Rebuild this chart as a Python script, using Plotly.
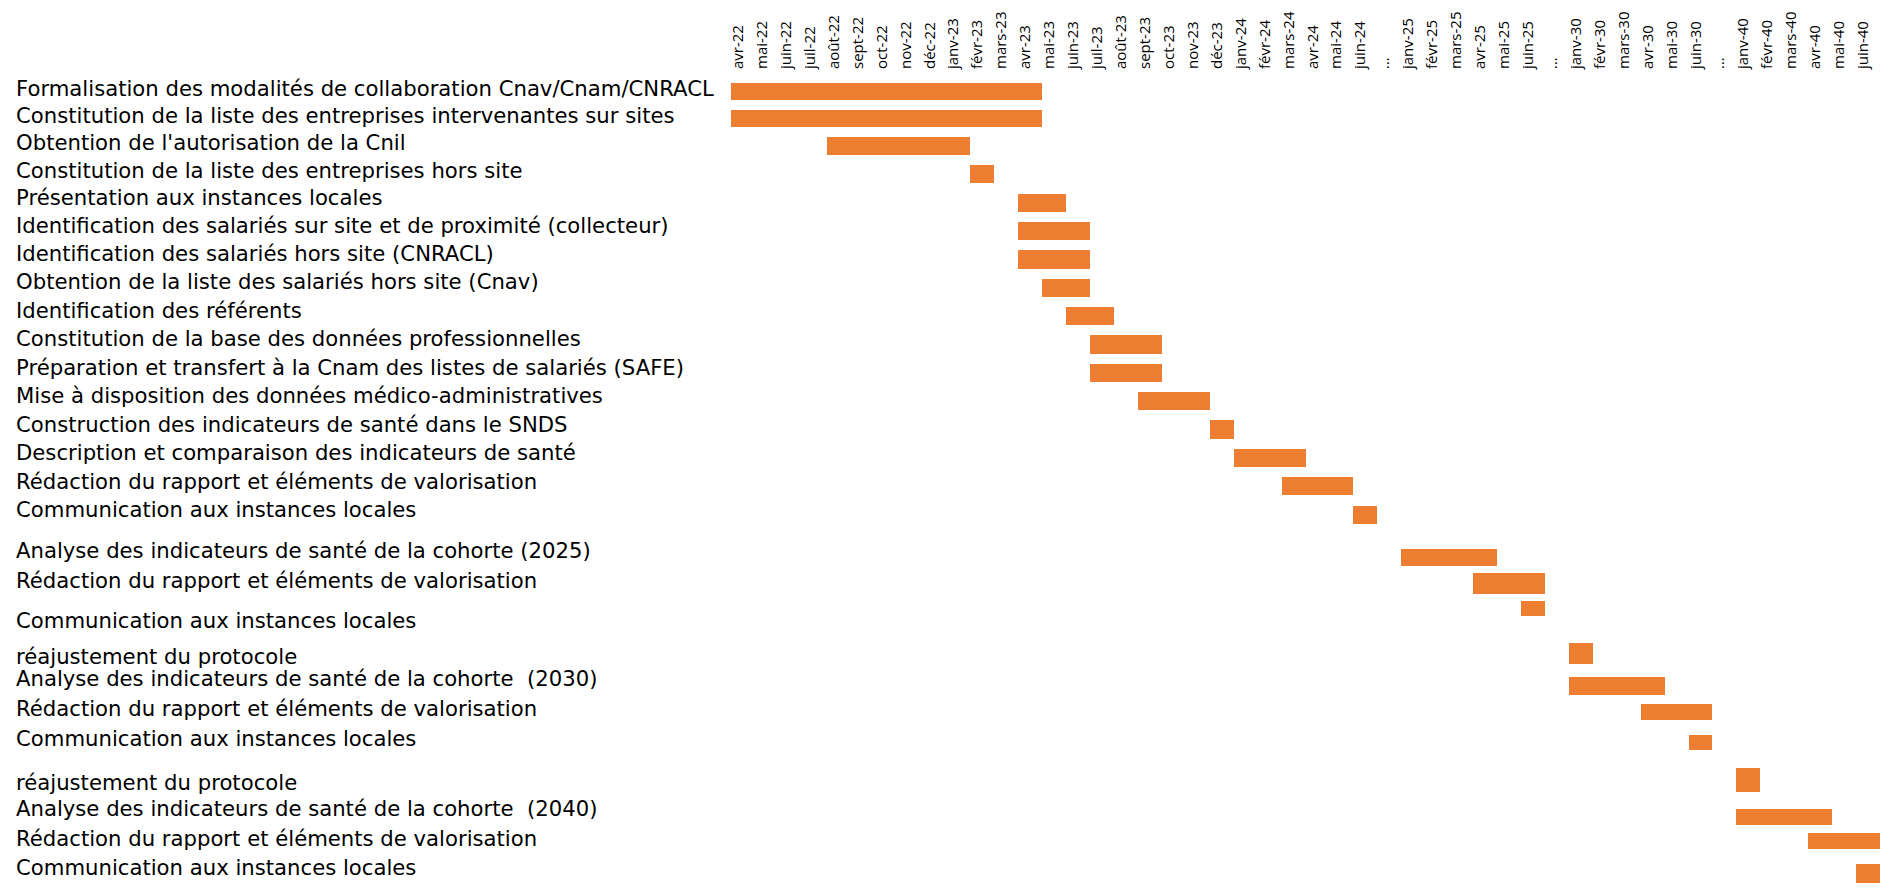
import plotly.graph_objects as go

# Month columns of the schedule ("…" marks skipped periods)
columns = [
    "avr-22", "mai-22", "juin-22", "juil-22", "août-22", "sept-22", "oct-22", "nov-22",
    "déc-22", "janv-23", "févr-23", "mars-23", "avr-23", "mai-23", "juin-23", "juil-23",
    "août-23", "sept-23", "oct-23", "nov-23", "déc-23", "janv-24", "févr-24", "mars-24",
    "avr-24", "mai-24", "juin-24", "…",
    "janv-25", "févr-25", "mars-25", "avr-25", "mai-25", "juin-25", "…",
    "janv-30", "févr-30", "mars-30", "avr-30", "mai-30", "juin-30", "…",
    "janv-40", "févr-40", "mars-40", "avr-40", "mai-40", "juin-40",
]

tasks = [
    "Formalisation des modalités de collaboration Cnav/Cnam/CNRACL",
    "Constitution de la liste des entreprises intervenantes sur sites",
    "Obtention de l'autorisation de la Cnil",
    "Constitution de la liste des entreprises hors site",
    "Présentation aux instances locales",
    "Identification des salariés sur site et de proximité (collecteur)",
    "Identification des salariés hors site (CNRACL)",
    "Obtention de la liste des salariés hors site (Cnav)",
    "Identification des référents",
    "Constitution de la base des données professionnelles",
    "Préparation et transfert à la Cnam des listes de salariés (SAFE)",
    "Mise à disposition des données médico-administratives",
    "Construction des indicateurs de santé dans le SNDS",
    "Description et comparaison des indicateurs de santé",
    "Rédaction du rapport et éléments de valorisation",
    "Communication aux instances locales",
    "Analyse des indicateurs de santé de la cohorte (2025)",
    "Rédaction du rapport et éléments de valorisation",
    "Communication aux instances locales",
    "réajustement du protocole",
    "Analyse des indicateurs de santé de la cohorte \u00a0(2030)",
    "Rédaction du rapport et éléments de valorisation",
    "Communication aux instances locales",
    "réajustement du protocole",
    "Analyse des indicateurs de santé de la cohorte \u00a0(2040)",
    "Rédaction du rapport et éléments de valorisation",
    "Communication aux instances locales",
]

start_month = [
    "avr-22", "avr-22", "août-22", "févr-23", "avr-23", "avr-23", "avr-23", "mai-23",
    "juin-23", "juil-23", "juil-23", "sept-23", "déc-23", "janv-24", "mars-24", "juin-24",
    "janv-25", "avr-25", "juin-25",
    "janv-30", "janv-30", "avr-30", "juin-30",
    "janv-40", "janv-40", "avr-40", "juin-40",
]

duration_months = [
    13, 13, 6, 1, 2, 3, 3, 2,
    2, 3, 3, 3, 1, 3, 3, 1,
    4, 3, 1,
    1, 4, 3, 1,
    1, 4, 3, 1,
]

# ---- layout (page pixels) ----
W, H = 1899, 891
PLOT_LEFT, PLOT_RIGHT, PLOT_TOP = 731, 1880, 70
LABEL_X = 14

# vertical centre and thickness of each bar row, and of each task label
bar_y = [91.5, 118.5, 146, 174, 203, 231, 259.5, 288, 316, 344.5, 373, 401, 429.5, 458,
         486, 515, 557.5, 583.5, 608.5, 653.5, 686, 712, 742.5, 780, 817, 841, 873.5]
bar_h = [17, 17, 18, 18, 18, 18, 19, 18, 18, 19, 18, 18, 19, 18,
         18, 18, 17, 21, 15, 21, 18, 16, 15, 24, 16, 16, 19]
label_y = [88, 115, 142, 170, 197, 225, 253, 281, 310, 338, 367, 395, 424, 452,
           481, 509, 550, 580, 620, 656, 678, 708, 738, 782, 808, 838, 867]

ORANGE = "#ED7D31"
LABEL_FONT = dict(family="DejaVu Sans", size=21.2, color="#000000")
HEAD_FONT = dict(family="Open Sans", size=15, color="#000000")

col_index = {c: i for i, c in enumerate(columns) if c != "…"}
bases = [col_index[s] for s in start_month]

fig = go.Figure()
fig.add_trace(go.Bar(
    orientation="h",
    y=bar_y,
    x=duration_months,
    base=bases,
    width=bar_h,
    marker=dict(color=ORANGE, line=dict(width=0)),
    hovertext=tasks,
    hoverinfo="text",
    showlegend=False,
))

plot_w = PLOT_RIGHT - PLOT_LEFT
annotations = []
for name, y in zip(tasks, label_y):
    annotations.append(dict(
        text=name,
        xref="paper", yref="y",
        x=(LABEL_X - PLOT_LEFT) / plot_w, y=y,
        xanchor="left", yanchor="middle",
        showarrow=False,
        font=LABEL_FONT,
    ))

fig.update_layout(
    width=W, height=H,
    margin=dict(l=PLOT_LEFT, r=W - PLOT_RIGHT, t=PLOT_TOP, b=0, pad=0),
    paper_bgcolor="white",
    plot_bgcolor="white",
    bargap=0,
    annotations=annotations,
    xaxis=dict(
        range=[0, len(columns)],
        side="top",
        tickmode="array",
        tickvals=[i + 0.3 for i in range(len(columns))],
        ticktext=columns,
        tickangle=-90,
        tickfont=HEAD_FONT,
        ticks="",
        showgrid=False,
        zeroline=False,
        showline=False,
        fixedrange=True,
    ),
    yaxis=dict(
        range=[H, PLOT_TOP],
        showticklabels=False,
        ticks="",
        showgrid=False,
        zeroline=False,
        showline=False,
        fixedrange=True,
    ),
)

fig.write_html("out.html", config={"displayModeBar": False})
